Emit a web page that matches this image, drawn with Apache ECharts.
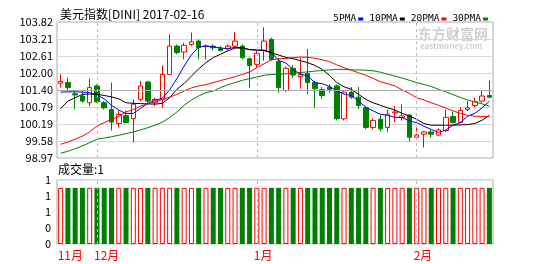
<!DOCTYPE html>
<html><head><meta charset="utf-8">
<script src="https://cdn.jsdelivr.net/npm/echarts@6/dist/echarts.min.js"></script>
<style>html,body{margin:0;padding:0;background:#fff}#c{width:548px;height:264px}</style>
</head><body><div id="c"></div>
<script>
const dates = ['2016-11-24','2016-11-25','2016-11-28','2016-11-29','2016-11-30',
'2016-12-01','2016-12-02','2016-12-05','2016-12-06','2016-12-07','2016-12-08','2016-12-09','2016-12-12','2016-12-13','2016-12-14','2016-12-15','2016-12-16','2016-12-19','2016-12-20','2016-12-21','2016-12-22','2016-12-23','2016-12-26','2016-12-27','2016-12-28','2016-12-29','2016-12-30',
'2017-01-02','2017-01-03','2017-01-04','2017-01-05','2017-01-06','2017-01-09','2017-01-10','2017-01-11','2017-01-12','2017-01-13','2017-01-16','2017-01-17','2017-01-18','2017-01-19','2017-01-20','2017-01-23','2017-01-24','2017-01-25','2017-01-26','2017-01-27','2017-01-30','2017-01-31',
'2017-02-01','2017-02-02','2017-02-03','2017-02-06','2017-02-07','2017-02-08','2017-02-09','2017-02-10','2017-02-13','2017-02-14','2017-02-15'];
const opens = [101.64,101.66,101.26,101.18,100.94,101.54,100.94,100.70,100.20,100.48,100.37,101.06,101.68,100.94,101.06,101.95,102.96,102.75,103.02,103.14,102.95,102.96,102.88,102.88,102.96,102.96,102.51,102.31,102.80,103.20,102.41,101.38,102.17,101.87,101.98,101.66,101.41,101.50,101.54,100.37,101.32,101.14,100.76,100.06,100.35,100.06,100.58,100.41,100.50,99.71,99.82,99.90,99.79,99.95,100.45,100.24,100.70,100.84,101.00,101.20];
const closes = [101.70,101.48,101.22,101.00,101.48,100.97,100.76,100.25,100.52,100.23,100.89,101.54,101.00,101.06,101.95,102.96,102.73,102.99,103.11,102.90,102.97,102.90,102.80,102.96,103.14,102.55,102.27,102.70,103.14,102.49,101.48,102.17,101.93,101.95,101.66,101.44,101.20,101.42,100.37,101.32,101.14,100.84,100.06,100.31,100.01,100.53,100.61,100.47,99.71,99.79,99.90,99.82,99.97,100.42,100.24,100.66,100.76,100.98,101.18,101.14];
const lows = [101.48,101.36,100.71,100.94,100.82,100.94,100.70,99.95,100.06,100.23,99.52,101.00,100.94,100.82,100.76,101.95,102.67,102.49,102.96,102.49,102.49,102.80,102.78,102.80,102.92,102.49,101.48,102.19,102.44,102.44,101.30,101.32,101.83,101.44,101.25,100.76,101.08,101.30,100.31,100.31,101.08,100.72,100.00,99.99,99.92,99.89,100.25,100.30,99.55,99.67,99.34,99.70,99.75,99.90,100.20,100.20,100.64,100.78,100.94,101.12];
const highs = [101.95,101.84,101.36,101.36,101.80,101.60,101.00,101.66,100.66,100.66,101.06,101.72,101.72,101.12,102.27,103.38,103.02,103.08,103.44,103.20,103.02,103.02,102.96,103.02,103.46,103.02,102.55,102.79,103.63,103.26,102.55,102.23,102.29,102.55,102.86,101.72,101.50,101.60,101.60,101.38,101.50,101.50,100.82,100.38,100.50,100.70,100.82,100.88,100.53,100.13,99.94,99.99,100.02,100.70,100.62,100.78,101.00,101.12,101.38,101.73];
const ma5 = [101.32,101.33,101.33,101.32,101.30,101.22,101.08,100.85,100.68,100.55,100.56,100.74,100.92,101.03,101.10,101.40,101.80,102.25,102.65,102.93,102.96,102.93,102.90,102.86,102.92,102.90,102.83,102.82,102.82,102.74,102.45,102.36,102.12,101.96,101.90,101.65,101.62,101.52,101.36,101.25,101.20,101.00,100.78,100.65,100.53,100.49,100.42,100.41,100.29,100.23,100.10,99.99,99.88,99.97,100.14,100.23,100.46,100.56,100.76,101.00];
const ma10 = [100.73,101.00,101.12,101.24,101.25,101.24,101.20,101.15,101.08,100.94,100.92,100.91,100.90,100.89,100.92,101.12,101.42,101.63,101.89,102.15,102.37,102.55,102.67,102.79,102.89,102.89,102.84,102.82,102.80,102.72,102.64,102.56,102.51,102.44,102.37,102.27,102.13,101.92,101.66,101.51,101.42,101.24,101.06,100.94,100.85,100.76,100.68,100.56,100.47,100.35,100.20,100.14,100.14,100.14,100.14,100.15,100.16,100.20,100.32,100.49];
const ma20 = [99.46,99.54,99.64,99.75,99.90,100.11,100.23,100.35,100.45,100.61,100.70,100.82,100.90,100.97,101.06,101.14,101.24,101.36,101.47,101.54,101.59,101.66,101.73,101.80,101.87,101.95,102.04,102.19,102.33,102.47,102.51,102.52,102.55,102.57,102.56,102.53,102.47,102.41,102.29,102.19,102.10,102.01,101.92,101.81,101.69,101.62,101.54,101.40,101.27,101.12,101.04,100.94,100.85,100.75,100.65,100.56,100.49,100.46,100.45,100.45];
const ma30 = [99.14,99.21,99.30,99.40,99.52,99.64,99.68,99.73,99.78,99.84,99.90,99.97,100.05,100.14,100.25,100.41,100.61,100.85,101.04,101.18,101.30,101.36,101.48,101.58,101.66,101.74,101.80,101.86,101.92,101.95,101.96,101.97,102.00,102.02,102.04,102.07,102.09,102.11,102.13,102.13,102.11,102.11,102.10,102.08,102.03,101.96,101.89,101.82,101.74,101.66,101.59,101.52,101.42,101.33,101.23,101.13,101.04,100.97,100.90,100.82];
const volumes = [1,1,1,1,1,1,1,1,1,1,1,1,1,1,1,1,1,1,1,1,1,1,1,1,1,1,1,1,1,1,1,1,1,1,1,1,1,1,1,1,1,1,1,1,1,1,1,1,1,1,1,1,1,1,1,1,1,1,1,1];
const priceTickLabels = ['98.97','99.58','100.19','100.79','101.40','102.00','102.61','103.21','103.82'];
const volTickLabels = ['0','0','1','1','1'];
const priceMin = 98.97, priceMax = 103.82;
const volMax = 1.14;
const title = '美元指数[DINI] 2017-02-16';
const volTitle = '成交量:1';
const legendNames = ['5PMA','10PMA','20PMA','30PMA'];
const monthNames = {'11':'11月','12':'12月','01':'1月','02':'2月'};

const FONT = '"Noto Sans CJK SC", sans-serif';
const RED = '#ff0000', GREEN = '#008000';
const monthStart = [];
dates.forEach((d, i) => { if (i === 0 || d.slice(5,7) !== dates[i-1].slice(5,7)) monthStart.push(i); });
const kdata = dates.map((d, i) => [opens[i], closes[i], lows[i], highs[i]]);
const vdata = volumes.map((v, i) => {
  const up = closes[i] >= opens[i];
  return {value: v, itemStyle: up ? {color: '#fff', borderColor: RED, borderWidth: 1} : {color: GREEN, borderColor: GREEN, borderWidth: 0}};
});
const monthLines = monthStart.slice(1).map(i => ({xAxis: dates[i]}));
const pInt = (priceMax - priceMin) / (priceTickLabels.length - 1);
const vInt = volMax / (volTickLabels.length - 1);

const chart = echarts.init(document.getElementById('c'), null, {renderer: 'canvas'});
chart.setOption({
  animation: false,
  backgroundColor: '#fff',
  textStyle: {fontFamily: FONT},
  legend: {
    data: legendNames, right: 55, top: 9, itemWidth: 5, itemHeight: 3, itemGap: 6,
    align: 'right', icon: 'rect', selectedMode: false,
    textStyle: {fontSize: 9.5, color: '#000', fontFamily: '"DejaVu Sans Mono", monospace', padding: [0, -3, 0, 0]}
  },
  graphic: [
    {type: 'text', left: 60, top: 8, style: {text: title, font: '12px ' + FONT, fill: '#000'}},
    {type: 'text', left: 58, top: 163, style: {text: volTitle, font: '12px ' + FONT, fill: '#000'}},
    {type: 'text', left: 418, top: 27, z: -1, style: {text: '东方财富网', font: 'bold 14px ' + FONT, fill: '#d0d0d0'}},
    {type: 'text', left: 420, top: 42, z: -1, style: {text: 'eastmoney.com', font: 'bold 8px ' + FONT, fill: '#d0d0d0'}}
  ],
  grid: [
    {left: 57, top: 22, width: 436, height: 136, show: true, borderColor: '#aaa', borderWidth: 1},
    {left: 57, top: 180, width: 436, height: 64, show: true, borderColor: '#aaa', borderWidth: 1}
  ],
  xAxis: [
    {type: 'category', gridIndex: 0, data: dates, boundaryGap: true,
     axisLine: {show: false}, axisTick: {show: false}, axisLabel: {show: false}, splitLine: {show: false}},
    {type: 'category', gridIndex: 1, data: dates, boundaryGap: true,
     axisLine: {show: false}, axisTick: {show: false}, splitLine: {show: false},
     axisLabel: {show: true, interval: (idx) => monthStart.includes(idx), align: 'left', margin: 5,
       color: RED, fontSize: 12, fontFamily: FONT,
       formatter: (v) => monthNames[v.slice(5,7)], padding: [0,0,0,-3]}}
  ],
  yAxis: [
    {type: 'value', gridIndex: 0, min: priceMin, max: priceMax, interval: pInt,
     axisLine: {show: false}, axisTick: {show: false},
     axisLabel: {color: '#000', fontSize: 11, margin: 4, fontFamily: FONT,
       formatter: v => priceTickLabels[Math.round((v - priceMin) / pInt)] || ''},
     splitLine: {show: true, lineStyle: {color: '#d8d8d8', width: 1}}},
    {type: 'value', gridIndex: 1, min: 0, max: volMax, interval: vInt,
     axisLine: {show: false}, axisTick: {show: false},
     axisLabel: {color: '#000', fontSize: 11, margin: 6, fontFamily: FONT, showMaxLabel: true,
       formatter: v => volTickLabels[Math.round(v / vInt)] || ''},
     splitLine: {show: true, lineStyle: {color: '#e4e4e4', width: 1}}}
  ],
  series: [
    {type: 'candlestick', name: 'K', xAxisIndex: 0, yAxisIndex: 0, data: kdata, barWidth: 5,
     itemStyle: {color: '#fff', color0: GREEN, borderColor: RED, borderColor0: GREEN, borderWidth: 1},
     markLine: {silent: true, symbol: 'none', label: {show: false},
       lineStyle: {color: '#bbb', type: [3, 3], width: 1},
       data: monthLines.concat([{yAxis: (priceMin + priceMax) / 2, lineStyle: {color: '#aaa', type: 'solid'}}])}},
    {type: 'line', name: '5PMA', data: ma5, showSymbol: false, lineStyle: {width: 1, color: '#0000ff'}, itemStyle: {color: '#0000ff'}, z: 3},
    {type: 'line', name: '10PMA', data: ma10, showSymbol: false, lineStyle: {width: 1, color: '#000'}, itemStyle: {color: '#000'}, z: 3},
    {type: 'line', name: '20PMA', data: ma20, showSymbol: false, lineStyle: {width: 1, color: '#ff0000'}, itemStyle: {color: '#ff0000'}, z: 3},
    {type: 'line', name: '30PMA', data: ma30, showSymbol: false, lineStyle: {width: 1, color: '#008000'}, itemStyle: {color: '#008000'}, z: 3},
    {type: 'bar', name: 'vol', xAxisIndex: 1, yAxisIndex: 1, data: vdata, barWidth: 5,
     markLine: {silent: true, symbol: 'none', label: {show: false},
       lineStyle: {color: '#bbb', type: [3, 3], width: 1}, data: monthLines}}
  ]
});
</script></body></html>
